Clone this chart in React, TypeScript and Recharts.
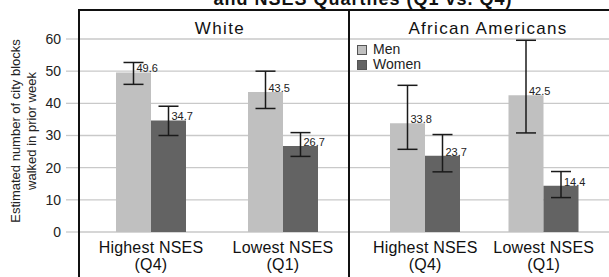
import React from 'react';
import { BarChart, Bar, XAxis, YAxis, CartesianGrid, ErrorBar, LabelList, Legend } from 'recharts';

const categories = ['Highest NSES', 'Lowest NSES'];
const quartiles = ['(Q4)', '(Q1)'];
const yTicks = [0, 10, 20, 30, 40, 50, 60];

// White
const whiteMen = [49.6, 43.5];
const whiteWomen = [34.7, 26.7];
const whiteMenErr = [[3.7, 3.1], [5.1, 6.5]];
const whiteWomenErr = [[4.7, 4.4], [3.2, 4.2]];

// African Americans
const aaMen = [33.8, 42.5];
const aaWomen = [23.7, 14.4];
const aaMenErr = [[8.1, 11.8], [11.7, 17.1]];
const aaWomenErr = [[5.0, 6.6], [3.7, 4.4]];

const MEN = '#c0c0c0';
const WOMEN = '#636363';
const GRID = '#c9c9c9';
const FONT = '"Liberation Sans", Arial, sans-serif';

const build = (men: number[], women: number[], menErr: number[][], womenErr: number[][]) =>
  categories.map((c, i) => ({ category: c, men: men[i], women: women[i], menErr: menErr[i], womenErr: womenErr[i] }));

const whiteData = build(whiteMen, whiteWomen, whiteMenErr, whiteWomenErr);
const aaData = build(aaMen, aaWomen, aaMenErr, aaWomenErr);

const CategoryTick = (props: any) => {
  const { x, y, payload } = props;
  const i = categories.indexOf(payload.value);
  return (
    <text x={x} y={y} textAnchor="middle" fontSize={16} fill="#111" fontFamily={FONT} letterSpacing={0.2}>
      <tspan x={x} dy={21}>{payload.value}</tspan>
      <tspan x={x} dy={17}>{quartiles[i]}</tspan>
    </text>
  );
};

const renderValue = (props: any) => {
  const { x, y, width, value } = props;
  return (
    <text x={x + width / 2 + 3} y={y - 4} dominantBaseline="central" fontSize={11} fill="#222" fontFamily={FONT}>
      {value}
    </text>
  );
};

const renderLegend = () => (
  <div style={{ fontFamily: FONT, fontSize: 14, color: '#222', lineHeight: '15px' }}>
    {[['Men', MEN], ['Women', WOMEN]].map(([name, color]) => (
      <div key={name} style={{ display: 'flex', alignItems: 'center' }}>
        <span style={{ display: 'inline-block', width: 8, height: 8, background: color, border: '1px solid #555', marginRight: 6 }} />
        {name}
      </div>
    ))}
  </div>
);

const series = (
  data: any[]
) => [
  <Bar key="men" dataKey="men" fill={MEN} isAnimationActive={false}>
    <ErrorBar dataKey="menErr" width={10} stroke="#1a1a1a" strokeWidth={1.5} />
    <LabelList dataKey="men" content={renderValue} />
  </Bar>,
  <Bar key="women" dataKey="women" fill={WOMEN} isAnimationActive={false}>
    <ErrorBar dataKey="womenErr" width={10} stroke="#1a1a1a" strokeWidth={1.5} />
    <LabelList dataKey="women" content={renderValue} />
  </Bar>,
];

const App: React.FC = () => {
  return (
    <div style={{ position: 'relative', width: 609, height: 277, overflow: 'hidden', background: '#fff', fontFamily: FONT }}>
      <style>{'body{margin:0}'}</style>

      {/* left panel: White */}
      <div style={{ position: 'absolute', left: 0, top: 0 }}>
        <BarChart width={349} height={277} data={whiteData} margin={{ top: 39, right: 0, bottom: 5, left: 0 }} barGap={0} barSize={35}>
          <CartesianGrid vertical={false} stroke={GRID} strokeWidth={1.3} />
          <XAxis dataKey="category" height={40} axisLine={false} tickLine={false} tickSize={0} tickMargin={0} interval={0} tick={<CategoryTick />} padding={{ left: 6, right: 0 }} />
          <YAxis width={79} domain={[0, 60]} ticks={yTicks} axisLine={false} tickSize={13} tickMargin={5} tickLine={{ stroke: GRID, strokeWidth: 1.3 }} tick={{ fontSize: 14, fill: '#222', fontFamily: FONT }} />
          {series(whiteData)}
        </BarChart>
      </div>

      {/* right panel: African Americans */}
      <div style={{ position: 'absolute', left: 349, top: 0 }}>
        <BarChart width={260} height={277} data={aaData} margin={{ top: 39, right: 0, bottom: 5, left: 0 }} barGap={0} barSize={35}>
          <CartesianGrid vertical={false} stroke={GRID} strokeWidth={1.3} />
          <XAxis dataKey="category" height={40} axisLine={false} tickLine={false} tickSize={0} tickMargin={0} interval={0} tick={<CategoryTick />} padding={{ left: 17, right: 6 }} />
          <YAxis hide domain={[0, 60]} ticks={yTicks} />
          <Legend layout="vertical" align="center" verticalAlign="middle" content={renderLegend} wrapperStyle={{ left: 8, top: 42, width: 'auto' }} />
          {series(aaData)}
        </BarChart>
      </div>

      {/* title (cut off at top) and panel headers */}
      <div style={{ position: 'absolute', left: 0, top: -10, width: 726, textAlign: 'center', fontSize: 18, lineHeight: '18px', fontWeight: 'bold', letterSpacing: 1, color: '#111' }}>
        and NSES Quartiles (Q1 vs. Q4)
      </div>
      <div style={{ position: 'absolute', left: 70, top: 20, width: 300, textAlign: 'center', fontSize: 17, lineHeight: '17px', letterSpacing: 1.4, color: '#111' }}>
        White
      </div>
      <div style={{ position: 'absolute', left: 338, top: 20, width: 300, textAlign: 'center', fontSize: 17, lineHeight: '17px', letterSpacing: 1.3, color: '#111' }}>
        African Americans
      </div>

      {/* frame */}
      <div style={{ position: 'absolute', left: 78, top: 9, width: 531, height: 2, background: '#111' }} />
      <div style={{ position: 'absolute', left: 78, top: 9, width: 2, height: 268, background: '#111' }} />
      <div style={{ position: 'absolute', left: 348, top: 9, width: 2, height: 268, background: '#111' }} />

      {/* y-axis title */}
      <div style={{ position: 'absolute', left: 24, top: 131, width: 0, height: 0 }}>
        <div style={{ position: 'absolute', left: -110, top: -16, width: 220, textAlign: 'center', transform: 'rotate(-90deg)', fontSize: 13, lineHeight: '16px', color: '#222' }}>
          Estimated number of city blocks<br />walked in prior week
        </div>
      </div>
    </div>
  );
};

export default App;
